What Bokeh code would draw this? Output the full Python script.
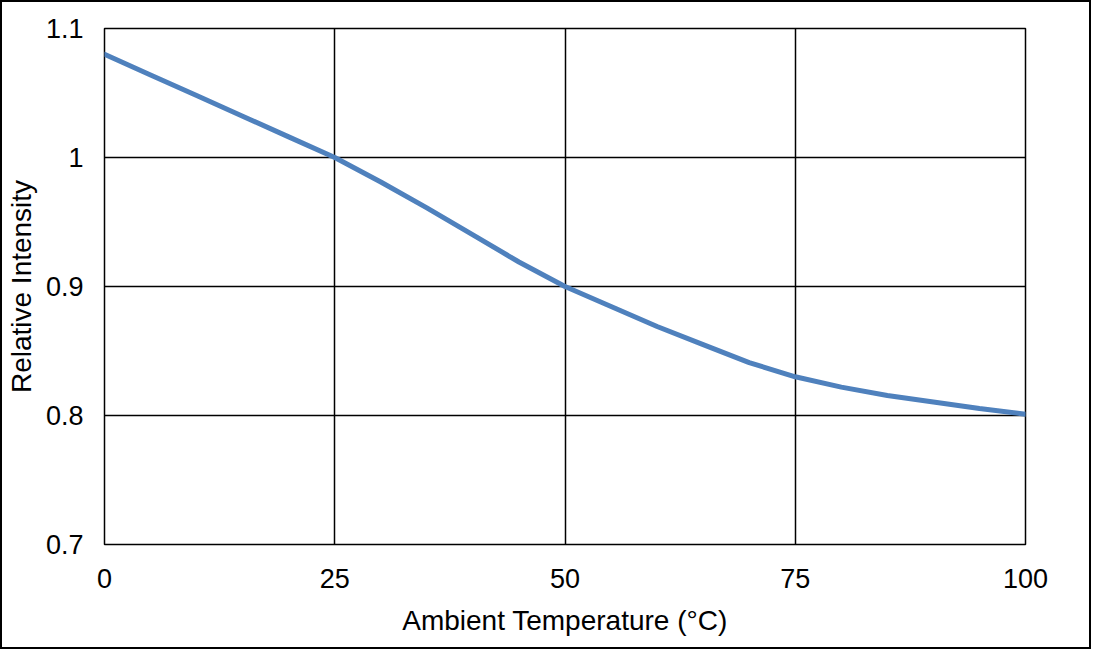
from bokeh.plotting import figure
from bokeh.models import FixedTicker, Range1d
from bokeh.layouts import column
from bokeh.embed import file_html
from bokeh.resources import INLINE

# ---- data ----
temperature = [0, 5, 10, 15, 20, 25, 30, 35, 40, 45, 50, 55, 60, 65, 70, 75, 80, 85, 90, 95, 100]
intensity = [1.080, 1.064, 1.048, 1.032, 1.016, 1.000, 0.981, 0.961, 0.940, 0.919, 0.900,
             0.8845, 0.869, 0.855, 0.841, 0.830, 0.822, 0.8155, 0.8105, 0.8055, 0.801]
x_ticks = [0, 25, 50, 75, 100]
x_tick_labels = ["0", "25", "50", "75", "100"]
y_ticks = [0.7, 0.8, 0.9, 1.0, 1.1]
y_tick_labels = ["0.7", "0.8", "0.9", "1", "1.1"]
x_title = "Ambient Temperature (°C)"
y_title = "Relative Intensity"

FONT = "Liberation Sans"
W_LEFT, W_FRAME, W_RIGHT = 96, 921, 64
H_TOP, H_FRAME, H_BOTTOM = 26, 516, 103

p = figure(frame_width=W_FRAME, frame_height=H_FRAME,
           min_border_left=W_LEFT, min_border_right=W_RIGHT,
           min_border_top=H_TOP, min_border_bottom=H_BOTTOM,
           x_range=Range1d(0, 100), y_range=Range1d(0.7, 1.1),
           output_backend="svg", toolbar_location=None)

p.line(temperature, intensity, line_color="#4f81bd", line_width=5, line_cap="round")

p.background_fill_color = "white"
p.border_fill_color = "white"
p.outline_line_color = "black"
p.outline_line_width = 1.5

for g, ticks in ((p.xgrid, x_ticks), (p.ygrid, y_ticks)):
    g.ticker = FixedTicker(ticks=ticks)
    g.grid_line_color = "black"
    g.grid_line_width = 1.5

p.xaxis.ticker = FixedTicker(ticks=x_ticks)
p.yaxis.ticker = FixedTicker(ticks=y_ticks)
p.xaxis.major_label_overrides = {t: s for t, s in zip(x_ticks, x_tick_labels)}
p.yaxis.major_label_overrides = {t: s for t, s in zip(y_ticks, y_tick_labels)}

for ax in (p.xaxis, p.yaxis):
    ax.axis_line_color = None
    ax.major_tick_line_color = None
    ax.minor_tick_line_color = None
    ax.major_tick_in = 0
    ax.major_tick_out = 0
    ax.minor_tick_in = 0
    ax.minor_tick_out = 0
    ax.major_label_text_font = FONT
    ax.major_label_text_font_size = "27px"
    ax.major_label_text_color = "black"
    ax.axis_label_text_font = FONT
    ax.axis_label_text_font_size = "28px"
    ax.axis_label_text_font_style = "normal"
    ax.axis_label_text_color = "black"

p.xaxis.axis_label = x_title
p.yaxis.axis_label = y_title
p.xaxis.major_label_standoff = 24
p.xaxis.axis_label_standoff = 14
p.yaxis.major_label_standoff = 21
p.yaxis.axis_label_standoff = 6

# outer chart-area border drawn by a wrapping layout box
layout = column(p, styles={"border": "2px solid black"})

open("out.html", "w").write(file_html(layout, INLINE))
